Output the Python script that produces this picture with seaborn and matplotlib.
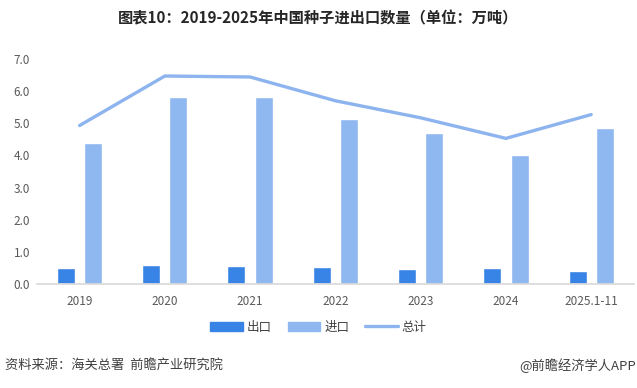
"""
图表10：2019-2025年中国种子进出口数量 — grouped bars (出口/进口) + total line.
"""

import matplotlib.pyplot as plt
import numpy as np
import pandas as pd
import seaborn as sns
from matplotlib.lines import Line2D
from matplotlib.patches import Patch

# ── Data (万吨) ───────────────────────────────────────────────────────────────
years = ["2019", "2020", "2021", "2022", "2023", "2024", "2025.1-11"]
export = [0.50, 0.59, 0.56, 0.53, 0.47, 0.50, 0.40]
imports = [4.39, 5.82, 5.82, 5.13, 4.70, 4.01, 4.85]
total = [4.93, 6.47, 6.44, 5.70, 5.17, 4.53, 5.27]

C_EXP = "#3884E6"
C_IMP = "#8FB8F0"
C_TOT = "#8DB4EE"

sns.set_theme(style="white")
plt.rcParams["font.family"] = ["Noto Sans CJK SC", "DejaVu Sans"]

df = pd.DataFrame({
    "year": years * 2,
    "value": export + imports,
    "kind": ["出口"] * len(years) + ["进口"] * len(years),
})

fig = plt.figure(figsize=(6.37, 3.88), dpi=100)
ax = fig.add_axes([0.058, 0.268, 0.937, 0.580])

sns.barplot(
    data=df, x="year", y="value", hue="kind", ax=ax,
    palette={"出口": C_EXP, "进口": C_IMP},
    width=0.64, gap=0.34, saturation=1, legend=False,
)
sns.lineplot(x=np.arange(len(years)), y=total, ax=ax, color=C_TOT, lw=2.4,
             legend=False)

ax.set_ylim(0, 7)
ax.set_xlim(-0.5, len(years) - 0.5)
ticks = np.arange(0, 7.5, 1)
ax.set_yticks(ticks)
ax.set_yticklabels([f"{v:.1f}" for v in ticks])
ax.set_xlabel("")
ax.set_ylabel("")
ax.tick_params(axis="both", labelsize=8.5, colors="#595959", length=0)
ax.tick_params(axis="x", pad=8)
ax.tick_params(axis="y", pad=5)
for s in ["top", "right", "left"]:
    ax.spines[s].set_visible(False)
ax.spines["bottom"].set_color("#D9D9D9")

# ── Legend & texts ────────────────────────────────────────────────────────────
handles = [Patch(color=C_EXP), Patch(color=C_IMP), Line2D([], [], color=C_TOT, lw=2.4)]
fig.legend(handles, ["出口", "进口", "总计"], loc="center", bbox_to_anchor=(0.5, 0.156),
           ncol=3, frameon=False, fontsize=9, handlelength=2.6, handleheight=0.8,
           columnspacing=1.3, handletextpad=0.3, labelcolor="#404040")

fig.text(0.5, 0.953, "图表10：2019-2025年中国种子进出口数量（单位：万吨）",
         ha="center", va="center", fontsize=11, fontweight="bold", color="#262626")
fig.text(0.008, 0.058, "资料来源：海关总署  前瞻产业研究院", ha="left", va="center",
         fontsize=9.5, color="#404040")
fig.text(0.999, 0.058, "@前瞻经济学人APP", ha="right", va="center",
         fontsize=9.5, color="#404040")

fig.savefig("out.png", dpi=100)
